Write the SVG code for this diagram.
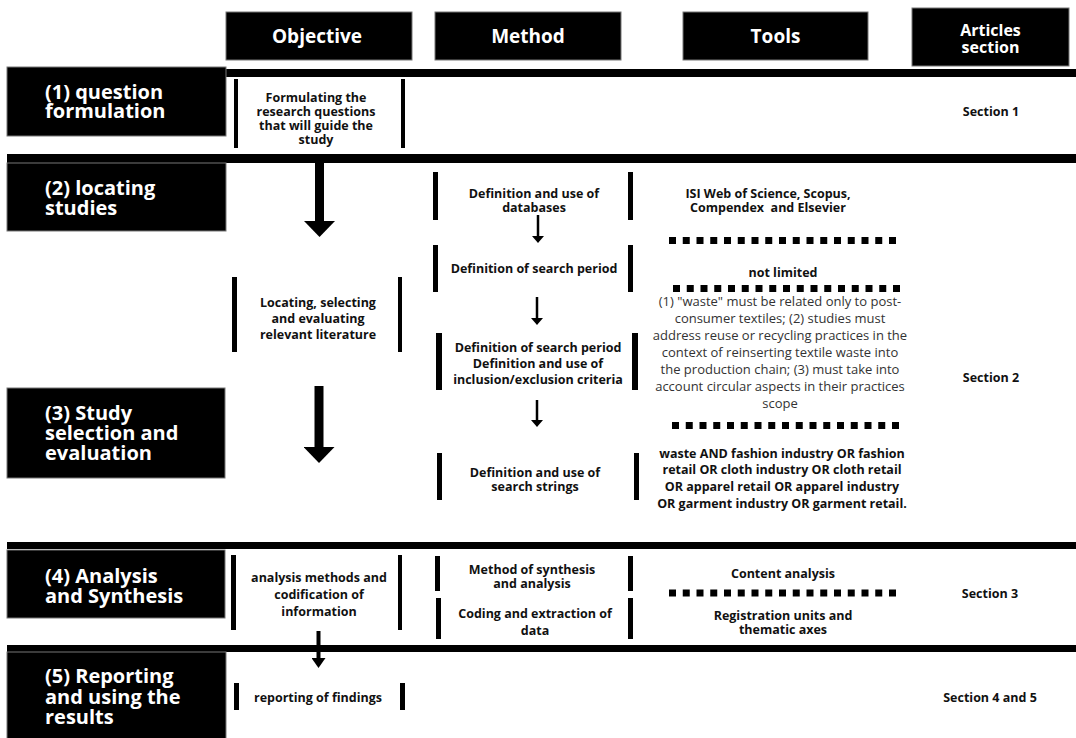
<svg xmlns="http://www.w3.org/2000/svg" width="1076" height="738" viewBox="0 0 1076 738">
<style>
.blk{fill:#000;stroke:#777;stroke-width:1}
.hd{font-family:"Open Sans","Liberation Sans",sans-serif;font-weight:700;fill:#fff;text-anchor:middle}
.st{font-family:"Open Sans","Liberation Sans",sans-serif;font-weight:700;fill:#fff;font-size:20px}
.b{font-family:"Open Sans","Liberation Sans",sans-serif;font-weight:700;fill:#111;font-size:12.5px;text-anchor:middle}
.r{font-family:"Open Sans","Liberation Sans",sans-serif;font-weight:400;fill:#333;font-size:13px;text-anchor:middle}
.bar{fill:#000}
.dot{stroke:#000;stroke-width:7;stroke-dasharray:7 6.75;fill:none}
.sa{stroke:#000;stroke-width:2.5;fill:none}
</style>
<defs>
<marker id="ms" viewBox="0 0 7 12" refX="0" refY="6" markerWidth="7" markerHeight="12" markerUnits="userSpaceOnUse" orient="auto"><path d="M0,0 L7,6 L0,12 z" fill="#000"/></marker>
<marker id="mm" viewBox="0 0 10 14" refX="0" refY="7" markerWidth="10" markerHeight="14" markerUnits="userSpaceOnUse" orient="auto"><path d="M0,0 L10,7 L0,14 z" fill="#000"/></marker>
<marker id="mb" viewBox="0 0 16 31" refX="0" refY="15.5" markerWidth="16" markerHeight="31" markerUnits="userSpaceOnUse" orient="auto"><path d="M0,0 L16,15.5 L0,31 z" fill="#000"/></marker>
</defs>
<rect width="1076" height="738" fill="#fff"/>

<g id="headers">
<g id="h-objective"><rect class="blk" x="226" y="12" width="186" height="48"/><text class="hd" x="317" y="43" font-size="19">Objective</text></g>
<g id="h-method"><rect class="blk" x="435" y="12" width="186" height="48"/><text class="hd" x="528" y="43" font-size="19">Method</text></g>
<g id="h-tools"><rect class="blk" x="683" y="12" width="185" height="48"/><text class="hd" x="775.5" y="43" font-size="19">Tools</text></g>
<g id="h-articles"><rect class="blk" x="912" y="8" width="157" height="58"/><text class="hd" x="990.5" y="36" font-size="16">Articles</text><text class="hd" x="990.5" y="53" font-size="16">section</text></g>
</g>

<g id="separators">
<rect class="bar" x="226" y="69" width="850" height="8"/>
<rect class="bar" x="7" y="154" width="1069" height="9"/>
<rect class="bar" x="7" y="542" width="1069" height="7"/>
<rect class="bar" x="7" y="645" width="1069" height="7"/>
</g>

<g id="stage1"><rect class="blk" x="7" y="67" width="219" height="69"/><text class="st" x="45" y="99">(1) question</text><text class="st" x="45" y="118">formulation</text></g>
<g id="stage2"><rect class="blk" x="7" y="163" width="219" height="68"/><text class="st" x="45" y="195">(2) locating</text><text class="st" x="45" y="215">studies</text></g>
<g id="stage3"><rect class="blk" x="7" y="388" width="218" height="90"/><text class="st" x="45" y="420">(3) Study</text><text class="st" x="45" y="440">selection and</text><text class="st" x="45" y="460">evaluation</text></g>
<g id="stage4"><rect class="blk" x="7" y="550" width="218" height="68"/><text class="st" x="45" y="583">(4) Analysis</text><text class="st" x="45" y="603">and Synthesis</text></g>
<g id="stage5"><rect class="blk" x="7" y="652" width="219" height="90"/><text class="st" x="45" y="683">(5) Reporting</text><text class="st" x="45" y="704">and using the</text><text class="st" x="45" y="724">results</text></g>

<g id="obj1"><rect class="bar" x="234" y="79" width="4" height="69"/><rect class="bar" x="401" y="79" width="4" height="69"/>
<text class="b" x="316" y="101.5">Formulating the</text><text class="b" x="316" y="115.5">research questions</text><text class="b" x="316" y="129.5">that will guide the</text><text class="b" x="316" y="143.5">study</text></g>
<g id="obj2"><rect class="bar" x="232" y="277" width="5" height="75"/><rect class="bar" x="398" y="277" width="4" height="75"/>
<text class="b" x="318" y="306.5">Locating, selecting</text><text class="b" x="318" y="322.5">and evaluating</text><text class="b" x="318" y="338.5">relevant literature</text></g>
<g id="obj4"><rect class="bar" x="231" y="555" width="5" height="75"/><rect class="bar" x="398" y="555" width="4" height="75"/>
<text class="b" x="319" y="581.5">analysis methods and</text><text class="b" x="319" y="598.5">codification of</text><text class="b" x="319" y="615.5">information</text></g>
<g id="obj5"><rect class="bar" x="234" y="683" width="5" height="27"/><rect class="bar" x="400" y="683" width="5" height="27"/>
<text class="b" x="318" y="701.5">reporting of findings</text></g>

<g id="m-databases"><rect class="bar" x="433" y="172" width="5" height="48"/><rect class="bar" x="628" y="172" width="5" height="48"/>
<text class="b" x="534" y="197.5">Definition and use of</text><text class="b" x="534" y="211.5">databases</text></g>
<g id="m-period"><rect class="bar" x="433" y="245" width="5" height="47"/><rect class="bar" x="628" y="245" width="5" height="47"/>
<text class="b" x="534" y="272.5">Definition of search period</text></g>
<g id="m-criteria"><rect class="bar" x="436" y="333" width="6" height="57"/><rect class="bar" x="632" y="333" width="6" height="57"/>
<text class="b" x="538" y="351.5">Definition of search period</text><text class="b" x="538" y="367.5">Definition and use of</text><text class="b" x="538" y="383.5">inclusion/exclusion criteria</text></g>
<g id="m-strings"><rect class="bar" x="437" y="453" width="5" height="47"/><rect class="bar" x="634" y="453" width="5" height="47"/>
<text class="b" x="535" y="476.5">Definition and use of</text><text class="b" x="535" y="490.5">search strings</text></g>
<g id="m-synthesis"><rect class="bar" x="435" y="556" width="5" height="35"/><rect class="bar" x="628" y="556" width="5" height="35"/>
<text class="b" x="532" y="573.5">Method of synthesis</text><text class="b" x="532" y="587.5">and analysis</text></g>
<g id="m-coding"><rect class="bar" x="436" y="598" width="5" height="41"/><rect class="bar" x="628" y="598" width="5" height="41"/>
<text class="b" x="535" y="617.5">Coding and extraction of</text><text class="b" x="535" y="634.5">data</text></g>

<g id="t-databases"><text class="b" x="768" y="197.5">ISI Web of Science, Scopus,</text><text class="b" x="768" y="211.5" xml:space="preserve">Compendex  and Elsevier</text></g>
<g id="t-period"><text class="b" x="783" y="276.5">not limited</text></g>
<g id="t-criteria">
<text class="r" x="780" y="306">(1) "waste" must be related only to post-</text>
<text class="r" x="780" y="323">consumer textiles; (2) studies must</text>
<text class="r" x="780" y="339.5">address reuse or recycling practices in the</text>
<text class="r" x="780" y="356.5">context of reinserting textile waste into</text>
<text class="r" x="780" y="373.5">the production chain; (3) must take into</text>
<text class="r" x="780" y="390.5">account circular aspects in their practices</text>
<text class="r" x="780" y="407.5">scope</text></g>
<g id="t-strings">
<text class="b" x="782" y="457.5">waste AND fashion industry OR fashion</text>
<text class="b" x="782" y="473.5">retail OR cloth industry OR cloth retail</text>
<text class="b" x="782" y="490.5">OR apparel retail OR apparel industry</text>
<text class="b" x="782" y="507.5">OR garment industry OR garment retail.</text></g>
<g id="t-content"><text class="b" x="783" y="577.5">Content analysis</text></g>
<g id="t-registration"><text class="b" x="783" y="619.5">Registration units and</text><text class="b" x="783" y="633.5">thematic axes</text></g>

<g id="dividers">
<line class="dot" x1="669" y1="240.5" x2="896" y2="240.5"/>
<line class="dot" x1="673" y1="288.5" x2="900" y2="288.5"/>
<line class="dot" x1="672" y1="425.5" x2="899" y2="425.5"/>
<line class="dot" x1="669" y1="593" x2="896" y2="593"/>
</g>

<g id="a-section1"><text class="b" x="991" y="115.5">Section 1</text></g>
<g id="a-section2"><text class="b" x="991" y="381.5">Section 2</text></g>
<g id="a-section3"><text class="b" x="990" y="597.5">Section 3</text></g>
<g id="a-section45"><text class="b" x="990" y="701.5">Section 4 and 5</text></g>

<g id="connectors">
<line x1="319.5" y1="163" x2="319.5" y2="221" stroke="#000" stroke-width="9" marker-end="url(#mb)"/>
<line x1="319" y1="386" x2="319" y2="447" stroke="#000" stroke-width="9" marker-end="url(#mb)"/>
<line class="sa" x1="538" y1="215" x2="538" y2="236" marker-end="url(#ms)"/>
<line class="sa" x1="537" y1="297" x2="537" y2="318" marker-end="url(#ms)"/>
<line class="sa" x1="537" y1="400" x2="537" y2="420" marker-end="url(#ms)"/>
<line x1="318.5" y1="631" x2="318.5" y2="658" stroke="#000" stroke-width="4" marker-end="url(#mm)"/>
</g>
</svg>
